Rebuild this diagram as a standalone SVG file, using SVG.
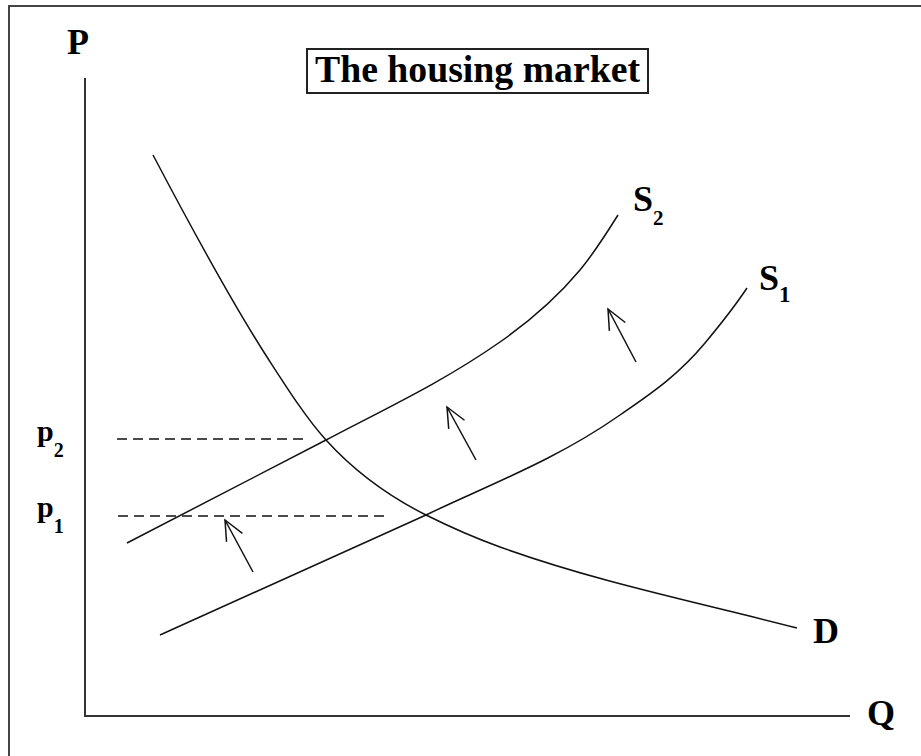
<svg xmlns="http://www.w3.org/2000/svg" width="921" height="756" viewBox="0 0 921 756">
<defs>
<style>
.lbl{font-family:"Liberation Serif","Times New Roman",serif;font-weight:bold;fill:#000}
.curve{fill:none;stroke:#111;stroke-width:1.5}
.axis{fill:none;stroke:#333;stroke-width:2}
.dash{fill:none;stroke:#111;stroke-width:1.5;stroke-dasharray:10 6}
.arrow{fill:none;stroke:#111;stroke-width:1.5;marker-end:url(#open)}
</style>
<marker id="open" markerUnits="userSpaceOnUse" orient="auto" markerWidth="30" markerHeight="30" viewBox="-25 -15 30 30" refX="0" refY="0">
<path d="M-20,-9 L0,0 L-20,9" fill="none" stroke="#111" stroke-width="1.5"/>
</marker>
</defs>
<rect width="921" height="756" fill="#fff"/>
<rect x="9" y="6" width="1000" height="1000" fill="none" stroke="#444" stroke-width="2"/>
<g id="title">
<rect x="307" y="49" width="341" height="44" fill="#fff" stroke="#222" stroke-width="2"/>
<text class="lbl" x="315" y="82" font-size="37" textLength="325" lengthAdjust="spacingAndGlyphs">The housing market</text>
</g>
<g id="axes">
<path class="axis" d="M85,78 V716 H850"/>
<text class="lbl" x="67" y="54" font-size="36">P</text>
<text class="lbl" x="867" y="725" font-size="36">Q</text>
</g>
<g id="price-labels">
<text class="lbl" x="37" y="441" font-size="30">p<tspan font-size="20" dy="16">2</tspan></text>
<text class="lbl" x="37" y="517" font-size="30">p<tspan font-size="20" dy="16">1</tspan></text>
</g>
<g id="demand">
<path class="curve" d="M153,155 C191,227.2 229,298.1 267,357 C286.7,387.5 306.3,418.4 326,440 C359.3,476.7 392.7,498.3 426,515 C450.7,527.3 475.3,538.1 500,547 C599,582.6 698,602.3 797,628"/>
<text class="lbl" x="813" y="643" font-size="36">D</text>
</g>
<g id="supply2">
<path class="curve" d="M127,543 L326,440 C384,409.3 442,382.6 500,342 C526.7,323.3 553.3,302 580,270 C592.7,254.8 605.3,235.3 618,215"/>
<text class="lbl" x="633" y="211" font-size="36">S<tspan font-size="21" dy="14">2</tspan></text>
</g>
<g id="supply1">
<path class="curve" d="M160,635 L426,515 C490.7,484 555.3,460.3 620,415 C648.3,395.2 676.7,377 705,343 C719,326.2 733,309 747,288"/>
<text class="lbl" x="759" y="290" font-size="36">S<tspan font-size="23" dy="12">1</tspan></text>
</g>
<g id="connectors">
<path class="dash" d="M117,439 H303"/>
<path class="dash" d="M118,516 H389"/>
<path class="arrow" d="M253,572 L225,520"/>
<path class="arrow" d="M476,460 L447,407"/>
<path class="arrow" d="M636,362 L608,309"/>
</g>
</svg>
